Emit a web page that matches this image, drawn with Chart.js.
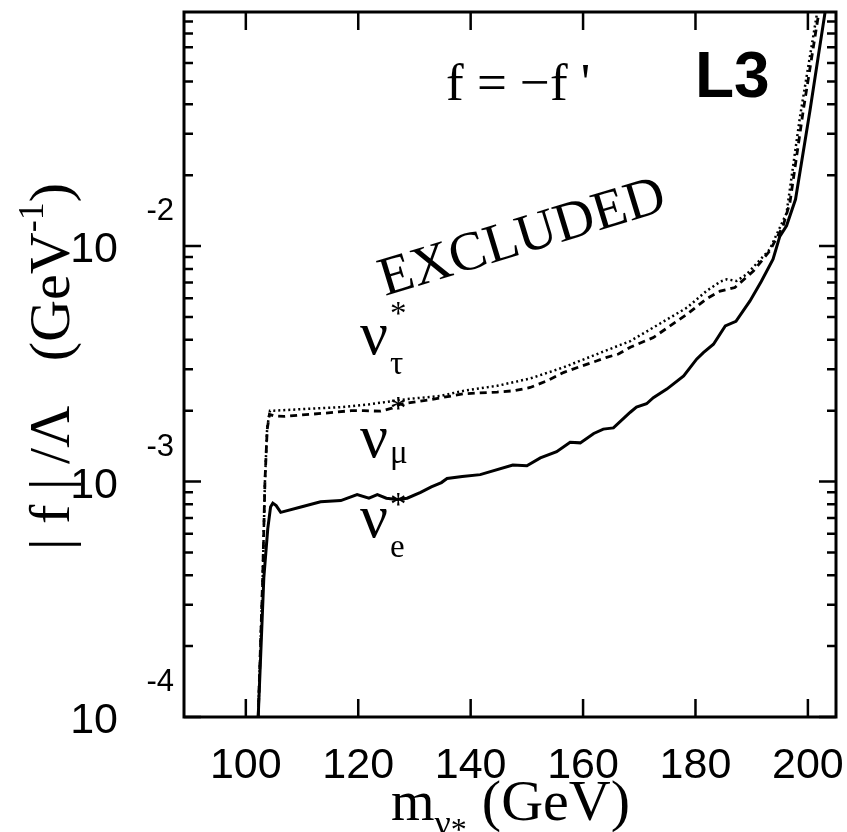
<!DOCTYPE html>
<html>
<head>
<meta charset="utf-8">
<script src="https://cdn.jsdelivr.net/npm/chart.js@4/dist/chart.umd.min.js"></script>
<style>
  html, body { margin: 0; padding: 0; background: #fff; }
</style>
</head>
<body>
<canvas id="chart" width="847" height="832"></canvas>
<script>
// nu_e* limit (solid)
const massE = [102.2, 103.2, 103.9, 104.4, 104.8, 105.4, 106.2, 109.8, 113.3, 116.9, 119.8, 121.9, 123.4, 125.0, 126.9, 128.7, 131.1, 133.0, 134.8, 135.8, 138.5, 141.7, 147.5, 150.0, 152.4, 155.3, 157.7, 159.5, 161.9, 163.6, 165.4, 168.4, 169.5, 171.3, 172.5, 174.9, 177.9, 180.2, 181.4, 183.2, 185.3, 187.2, 189.7, 191.7, 193.8, 195.0, 196.2, 197.8, 200.4, 201.8, 203.1];
const limitE = [1.0e-4, 3.9e-4, 6.3e-4, 7.8e-4, 8.1e-4, 7.9e-4, 7.4e-4, 7.8e-4, 8.2e-4, 8.3e-4, 8.8e-4, 8.5e-4, 8.8e-4, 8.5e-4, 8.4e-4, 8.5e-4, 9.0e-4, 9.5e-4, 9.9e-4, 1.03e-3, 1.05e-3, 1.07e-3, 1.175e-3, 1.167e-3, 1.26e-3, 1.34e-3, 1.47e-3, 1.46e-3, 1.60e-3, 1.67e-3, 1.69e-3, 1.97e-3, 2.07e-3, 2.14e-3, 2.27e-3, 2.47e-3, 2.81e-3, 3.31e-3, 3.53e-3, 3.83e-3, 4.58e-3, 4.79e-3, 5.85e-3, 7.08e-3, 8.79e-3, 1.10e-2, 1.22e-2, 1.58e-2, 3.8e-2, 6.3e-2, 1.0e-1];

// nu_mu* limit (dashed)
const massMu = [102.2, 103.0, 103.4, 103.8, 104.2, 105.0, 106.8, 110.0, 113.9, 118.7, 121.0, 124.0, 126.0, 127.5, 132.9, 138.8, 144.7, 147.7, 150.6, 153.6, 156.6, 159.5, 162.5, 164.2, 166.3, 168.4, 172.5, 178.5, 182.0, 184.4, 187.0, 190.3, 193.2, 195.6, 196.8, 199.2, 202.0];
const limitMu = [1.0e-4, 3.9e-4, 1.0e-3, 1.66e-3, 1.93e-3, 1.90e-3, 1.89e-3, 1.92e-3, 1.95e-3, 2.0e-3, 2.0e-3, 1.99e-3, 2.05e-3, 2.13e-3, 2.23e-3, 2.36e-3, 2.40e-3, 2.43e-3, 2.51e-3, 2.68e-3, 2.91e-3, 3.08e-3, 3.26e-3, 3.37e-3, 3.48e-3, 3.72e-3, 4.09e-3, 5.14e-3, 5.98e-3, 6.44e-3, 6.67e-3, 7.83e-3, 9.53e-3, 1.22e-2, 1.53e-2, 3.8e-2, 1.0e-1];

// nu_tau* limit (dotted)
const massTau = [102.2, 103.0, 103.4, 103.8, 104.3, 105.0, 110.0, 116.9, 122.0, 128.7, 134.6, 138.8, 144.7, 150.6, 156.6, 162.5, 168.4, 172.5, 178.5, 182.0, 184.5, 185.6, 187.3, 189.1, 193.2, 196.2, 198.6, 201.7];
const limitTau = [1.0e-4, 3.9e-4, 1.0e-3, 1.7e-3, 2.0e-3, 2.0e-3, 2.03e-3, 2.07e-3, 2.13e-3, 2.24e-3, 2.31e-3, 2.43e-3, 2.55e-3, 2.74e-3, 3.06e-3, 3.48e-3, 3.95e-3, 4.51e-3, 5.48e-3, 6.46e-3, 7.08e-3, 7.23e-3, 7.11e-3, 7.59e-3, 9.68e-3, 1.38e-2, 3.55e-2, 1.0e-1];

// axis ticks
const xTicks = [100, 120, 140, 160, 180, 200];
const yDecades = [1e-4, 1e-3, 1e-2];
const yExponents = ['-4', '-3', '-2'];

const toPoints = (xs, ys) => xs.map((x, i) => ({ x: x, y: ys[i] }));

const SERIF = '"Liberation Serif", "Times New Roman", serif';
const SANS = '"Liberation Sans", Arial, sans-serif';

// frame, inward ticks, labels and annotations
const framePlugin = {
  id: 'frame',
  afterDraw(chart) {
    const ctx = chart.ctx;
    const a = chart.chartArea;
    const xs = chart.scales.x;
    const ys = chart.scales.y;
    ctx.save();
    ctx.strokeStyle = '#000';
    ctx.fillStyle = '#000';

    // box
    ctx.lineWidth = 3;
    ctx.strokeRect(a.left, a.top, a.right - a.left, a.bottom - a.top);

    // ticks
    ctx.lineWidth = 2.5;
    ctx.beginPath();
    xTicks.forEach(v => {
      const px = xs.getPixelForValue(v);
      ctx.moveTo(px, a.bottom); ctx.lineTo(px, a.bottom - 18);
      ctx.moveTo(px, a.top); ctx.lineTo(px, a.top + 18);
    });
    yDecades.forEach(d => {
      for (let k = 1; k <= 9; k++) {
        const v = d * k;
        if (v < ys.min || v > ys.max) continue;
        const py = ys.getPixelForValue(v);
        const len = k === 1 ? 17 : 9;
        ctx.moveTo(a.left, py); ctx.lineTo(a.left + len, py);
        ctx.moveTo(a.right, py); ctx.lineTo(a.right - len, py);
      }
    });
    ctx.stroke();

    // x tick labels
    ctx.font = '43px ' + SANS;
    ctx.textAlign = 'center';
    ctx.textBaseline = 'alphabetic';
    xTicks.forEach(v => ctx.fillText(String(v), xs.getPixelForValue(v), 778));

    // y tick labels 10^n
    yDecades.forEach((v, i) => {
      const py = ys.getPixelForValue(v);
      ctx.textAlign = 'right';
      ctx.font = '43px ' + SANS;
      ctx.fillText('10', 118, py + 16);
      ctx.font = '31px ' + SANS;
      ctx.fillText(yExponents[i], 174, py - 26);
    });

    // x title
    ctx.textAlign = 'left';
    ctx.font = '56px ' + SERIF;
    ctx.fillText('m', 391, 820);
    let x = 391 + ctx.measureText('m').width;
    ctx.font = '36px ' + SERIF;
    ctx.fillText('\u03bd', x, 835);
    x += ctx.measureText('\u03bd').width;
    ctx.font = '32px ' + SERIF;
    ctx.fillText('*', x, 840);
    ctx.font = '58px ' + SERIF;
    ctx.textAlign = 'right';
    ctx.fillText('(GeV)', 630, 820);

    // y title (rotated)
    ctx.save();
    ctx.translate(69, 0);
    ctx.rotate(-Math.PI / 2);
    ctx.textAlign = 'left';
    ctx.font = '58px ' + SERIF;
    ctx.fillText('| f | /\u039b', -550, 0);
    ctx.textAlign = 'right';
    ctx.fillText(')', -183, 0);
    const closeW = ctx.measureText(')').width;
    ctx.font = '36px ' + SERIF;
    ctx.fillText('-1', -183 - closeW, -26);
    const supW = ctx.measureText('-1').width;
    ctx.font = '58px ' + SERIF;
    ctx.fillText('(GeV', -183 - closeW - supW, 0);
    ctx.restore();

    // annotations
    ctx.textAlign = 'left';
    ctx.font = '53px ' + SERIF;
    ctx.fillText('f = \u2212f \'', 446, 100);
    ctx.font = 'bold 64px ' + SANS;
    ctx.fillText('L3', 695, 97);

    ctx.save();
    ctx.translate(385, 296);
    ctx.rotate(-17 * Math.PI / 180);
    ctx.font = '55px ' + SERIF;
    ctx.fillText('EXCLUDED', 0, 0);
    ctx.restore();

    // neutrino labels
    const nuLabel = (base, sub, subY, starY) => {
      ctx.textAlign = 'left';
      ctx.font = '62px ' + SERIF;
      ctx.fillText('\u03bd', 360, base);
      ctx.font = '33px ' + SERIF;
      ctx.fillText(sub, 390, subY);
      ctx.fillText('*', 390, starY);
    };
    nuLabel(354, '\u03c4', 374, 324);
    nuLabel(457, '\u03bc', 463, 419);
    nuLabel(537, 'e', 557, 515);

    ctx.restore();
  }
};

new Chart(document.getElementById('chart').getContext('2d'), {
  type: 'line',
  data: {
    datasets: [
      {
        label: 'nu_tau*',
        data: toPoints(massTau, limitTau),
        borderColor: '#000',
        borderWidth: 2.5,
        borderDash: [2, 3],
        pointRadius: 0,
        tension: 0
      },
      {
        label: 'nu_mu*',
        data: toPoints(massMu, limitMu),
        borderColor: '#000',
        borderWidth: 2.8,
        borderDash: [7, 5],
        pointRadius: 0,
        tension: 0
      },
      {
        label: 'nu_e*',
        data: toPoints(massE, limitE),
        borderColor: '#000',
        borderWidth: 3,
        pointRadius: 0,
        tension: 0
      }
    ]
  },
  options: {
    responsive: false,
    animation: false,
    layout: { padding: { left: 184, right: 11, top: 12, bottom: 115 } },
    scales: {
      x: { type: 'linear', min: 89, max: 205, display: false },
      y: { type: 'logarithmic', min: 1e-4, max: 0.0987, display: false }
    },
    plugins: {
      legend: { display: false },
      tooltip: { enabled: false }
    }
  },
  plugins: [framePlugin]
});
</script>
</body>
</html>
